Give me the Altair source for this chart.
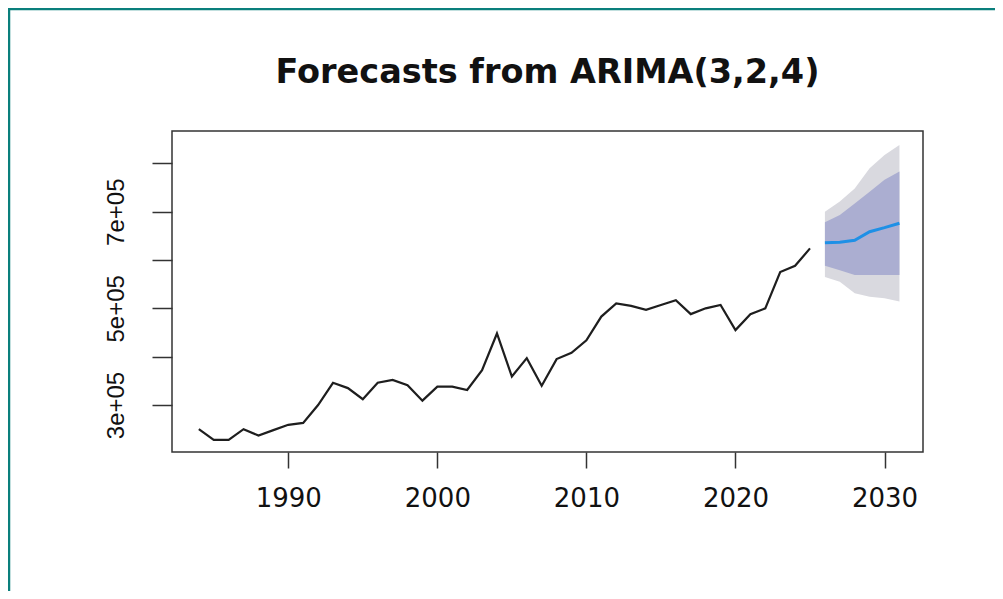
import altair as alt
import pandas as pd

# ---- data ----
years = list(range(1984, 2026))
values = [250000, 228000, 228000, 250000, 237000, 248000, 259000, 263000, 300000, 346000,
          335000, 312000, 346000, 352000, 341000, 309000, 338000, 338000, 331000, 372000,
          448000, 359000, 397000, 340000, 395000, 408000, 434000, 483000, 510000, 505000,
          497000, 507000, 517000, 488000, 500000, 507000, 455000, 488000, 500000, 575000,
          588000, 624000]

fc_years = [2026, 2027, 2028, 2029, 2030, 2031]
fc_mean = [635800, 636600, 640800, 658600, 666900, 676000]
lo80 = [588000, 579000, 569000, 569000, 569000, 569000]
hi80 = [678000, 693000, 717000, 741000, 766000, 783000]
lo95 = [565000, 555000, 531000, 524000, 521000, 514000]
hi95 = [700000, 721000, 748000, 790000, 817000, 838000]

x_ticks = [1990, 2000, 2010, 2020, 2030]
y_ticks = [300000, 400000, 500000, 600000, 700000, 800000]
title_text = ["Forecasts from ARIMA(3,2,4)"]

hist = pd.DataFrame({"year": years, "value": values})
fc = pd.DataFrame({"year": fc_years, "mean": fc_mean, "lo80": lo80, "hi80": hi80,
                   "lo95": lo95, "hi95": hi95})

xscale = alt.Scale(domain=[1982.2, 2032.58], nice=False, zero=False)
yscale = alt.Scale(domain=[202800, 866900], nice=False, zero=False)

xaxis = alt.Axis(values=x_ticks, format="d", title=None, domain=False, grid=False,
                 tickSize=16, tickColor="#333333", tickWidth=1.5,
                 labelFont="DejaVu Sans", labelFontSize=26, labelColor="#111111",
                 labelPadding=17, labelFlush=False)
yaxis = alt.Axis(values=y_ticks, title=None, domain=False, grid=False,
                 tickSize=20, tickColor="#333333", tickWidth=1.5,
                 labelExpr="(datum.value/100000) % 2 == 1 ? (datum.value/100000) + 'e+05' : ''",
                 labelFont="Liberation Sans", labelFontSize=24, labelColor="#111111",
                 labelAngle=270, labelAlign="center", labelBaseline="alphabetic",
                 labelPadding=29, labelFlush=False, labelOverlap=False)

band95 = alt.Chart(fc).mark_area(color="#D9D9DF", opacity=1).encode(
    x=alt.X("year:Q", scale=xscale, axis=xaxis),
    y=alt.Y("lo95:Q", scale=yscale, axis=yaxis),
    y2="hi95:Q",
)
band80 = alt.Chart(fc).mark_area(color="#ABAED1", opacity=1).encode(
    x=alt.X("year:Q", scale=xscale),
    y=alt.Y("lo80:Q", scale=yscale),
    y2="hi80:Q",
)
hist_line = alt.Chart(hist).mark_line(color="#1E1E1E", strokeWidth=2.2).encode(
    x=alt.X("year:Q", scale=xscale),
    y=alt.Y("value:Q", scale=yscale),
)
mean_line = alt.Chart(fc).mark_line(color="#1E90E6", strokeWidth=3).encode(
    x=alt.X("year:Q", scale=xscale),
    y=alt.Y("mean:Q", scale=yscale),
)

title_df = pd.DataFrame({"t": title_text})
title = alt.Chart(title_df).mark_text(
    font="DejaVu Sans", fontSize=33.5, fontWeight="bold", color="#111111",
    align="center", baseline="alphabetic",
).encode(text="t:N", x=alt.value(375.5), y=alt.value(-48))

one = pd.DataFrame({"k": [0]})
top_border = alt.Chart(one).mark_rule(color="#0A7F7C", strokeWidth=2.5).encode(
    x=alt.value(-164), x2=alt.value(823), y=alt.value(-122)
)
left_border = alt.Chart(one).mark_rule(color="#0A7F7C", strokeWidth=2.5).encode(
    x=alt.value(-163), y=alt.value(-123), y2=alt.value(460)
)

chart = alt.layer(band95, band80, hist_line, mean_line, title, top_border, left_border).properties(
    width=751,
    height=321,
    padding={"left": 164, "top": 123, "right": 72, "bottom": 139},
    autosize=alt.AutoSizeParams(type="none"),
    background="white",
).configure_view(stroke="#333333", strokeWidth=1.5)

chart.save("out.html", embed_options={"renderer": "svg", "actions": False})
